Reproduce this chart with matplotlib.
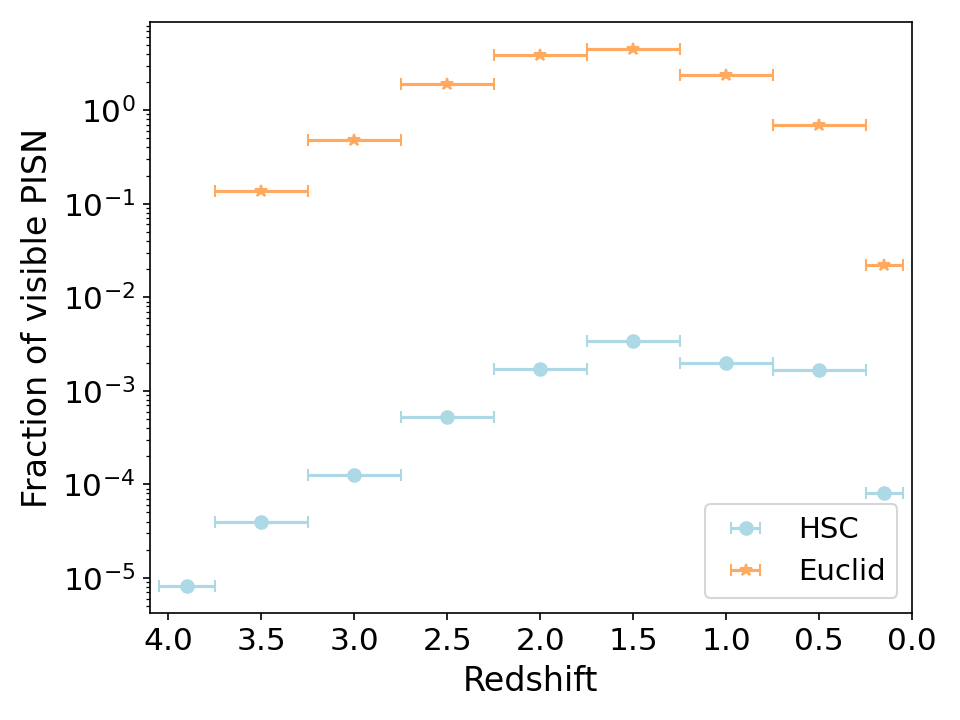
import matplotlib
matplotlib.use("Agg")
import matplotlib.pyplot as plt
import numpy as np

z = [3.9, 3.5, 3.0, 2.5, 2.0, 1.5, 1.0, 0.5, 0.15]
z_err = [0.15, 0.25, 0.25, 0.25, 0.25, 0.25, 0.25, 0.25, 0.1]
hsc = [8.2e-6, 4.0e-5, 1.27e-4, 5.3e-4, 1.7e-3, 3.4e-3, 1.98e-3, 1.66e-3, 8.0e-5]

z_euc = [3.5, 3.0, 2.5, 2.0, 1.5, 1.0, 0.5, 0.15]
z_euc_err = [0.25, 0.25, 0.25, 0.25, 0.25, 0.25, 0.25, 0.1]
euclid = [0.136, 0.478, 1.9, 3.87, 4.49, 2.37, 0.69, 0.0221]

x_ticks = [4.0, 3.5, 3.0, 2.5, 2.0, 1.5, 1.0, 0.5, 0.0]

fig = plt.figure(figsize=(6.4, 4.8), dpi=150)
ax = fig.add_axes([0.156, 0.149, 0.794, 0.82])
ax.errorbar(z, hsc, xerr=z_err, fmt='o', color='#add8e6', capsize=3, label='HSC')
ax.errorbar(z_euc, euclid, xerr=z_euc_err, fmt='*', color='#ffaa5e', capsize=3, label='Euclid')
ax.set_yscale('log')
ax.set_xlim(4.1, 0.0)
ax.set_xticks(x_ticks)
ax.set_xticklabels([f"{t:.1f}" for t in x_ticks])
ax.set_xlabel('Redshift', fontsize=16)
ax.set_ylabel('Fraction of visible PISN', fontsize=16)
ax.tick_params(axis='both', which='major', labelsize=15)
ax.legend(loc='lower right', fontsize=14)
fig.savefig('out.png', dpi=150)
